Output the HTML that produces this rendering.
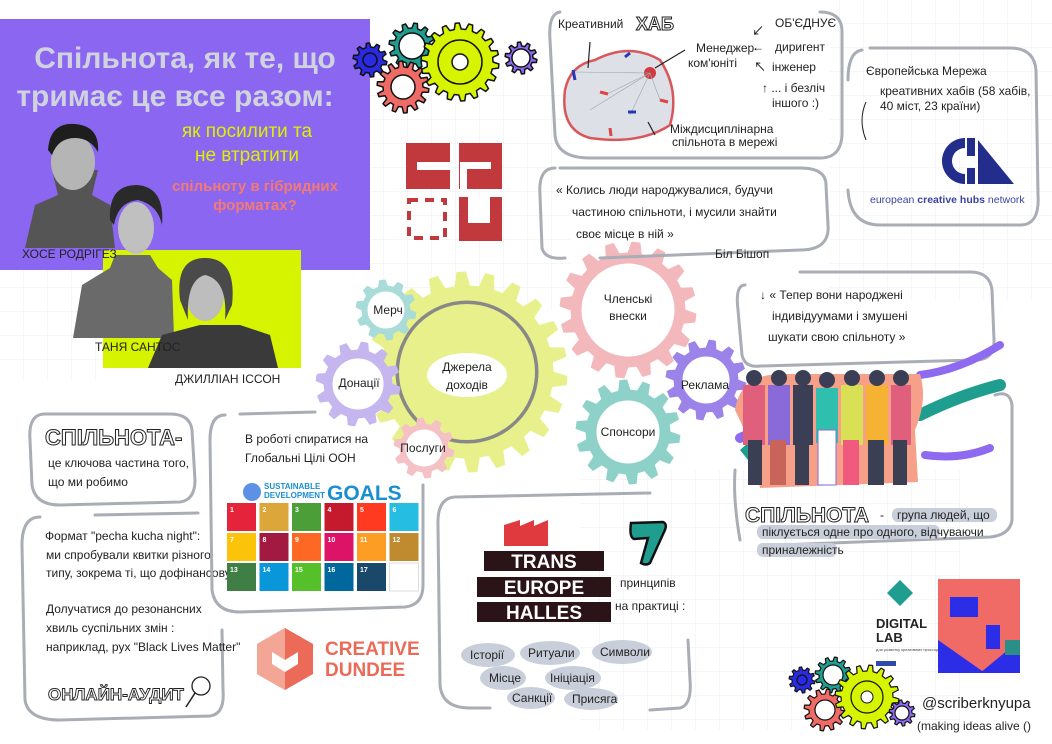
<!DOCTYPE html>
<html><head><meta charset="utf-8">
<style>
html,body{margin:0;padding:0;background:#fff;}
svg{display:block}
text{font-family:"Liberation Sans","Noto Sans CJK SC",sans-serif;}
.h{font-family:"Liberation Sans","Noto Sans CJK SC",sans-serif;fill:#222;font-size:12px;}
.box{fill:none;stroke:#a9adb6;stroke-width:3;stroke-linecap:round}
</style></head><body>
<svg id="s" width="1052" height="744" viewBox="0 0 1052 744" xmlns="http://www.w3.org/2000/svg">
<defs>
<pattern id="grid" width="24" height="24" patternUnits="userSpaceOnUse"><path d="M24 0V24H0" fill="none" stroke="#eceef2" stroke-width="1"/></pattern>
</defs>
<rect width="1052" height="744" fill="#fff"/>
<rect x="580" y="470" width="380" height="260" fill="url(#grid)"/>
<rect x="0" y="260" width="110" height="120" fill="url(#grid)"/>
<rect x="370" y="80" width="200" height="230" fill="url(#grid)"/>
<rect x="830" y="0" width="222" height="300" fill="url(#grid)"/>

<!-- purple header -->
<rect x="0" y="19" width="370" height="251" fill="#8b66f1"/>
<text x="185" y="68" text-anchor="middle" font-size="30" font-weight="bold" fill="#cfd3de">Спільнота, як те, що</text>
<text x="175" y="106" text-anchor="middle" font-size="30" font-weight="bold" fill="#cfd3de">тримає це все разом:</text>
<text x="247" y="137" text-anchor="middle" font-size="19" fill="#dcf000">як посилити та</text>
<text x="247" y="161" text-anchor="middle" font-size="19" fill="#dcf000">не втратити</text>
<text x="255" y="191" text-anchor="middle" font-size="15" font-weight="bold" fill="#f37a74">спільноту в гібридних</text>
<text x="255" y="210" text-anchor="middle" font-size="15" font-weight="bold" fill="#f37a74">форматах?</text>
<rect x="103" y="250" width="198" height="118" fill="#d6f300"/>
<!-- people -->
<path d="M25 248 L35 205 L58 195 L52 170 L98 170 L92 195 L110 205 L115 248Z" fill="#555"/>
<ellipse cx="73" cy="162" rx="22" ry="28" fill="#b5b5b5"/>
<path d="M48 150 Q50 122 75 124 Q100 126 98 152 Q90 138 75 138 Q58 138 52 155Z" fill="#1e1e1e"/>
<path d="M73 338 L82 285 L110 268 L115 255 L150 255 L158 268 L172 280 L174 338Z" fill="#6a6a6a"/>
<ellipse cx="136" cy="228" rx="18" ry="26" fill="#c0c0c0"/>
<path d="M110 220 Q108 185 137 185 Q165 187 162 225 Q158 205 138 200 Q118 202 114 225Z" fill="#2a2a2a"/>
<path d="M148 368 L162 335 L200 325 L240 325 L270 335 L278 368Z" fill="#3a3a3a"/>
<ellipse cx="205" cy="295" rx="19" ry="26" fill="#bdbdbd"/>
<path d="M180 300 Q175 258 205 258 Q237 258 232 305 L225 320 Q228 280 205 275 Q186 280 188 320Z" fill="#4a4a4a"/>
<text x="22" y="258" class="h" font-size="9">ХОСЕ РОДРІГЕЗ</text>
<text x="95" y="351" class="h" font-size="9">ТАНЯ САНТОС</text>
<text x="175" y="383" class="h" font-size="9">ДЖИЛЛІАН ІССОН</text>

<!-- CRU logo -->
<g fill="#c1393c">
<rect x="406" y="143" width="44" height="46"/>
<rect x="459" y="143" width="43" height="46"/>
<rect x="459" y="197" width="43" height="44"/>
</g>
<g fill="#fff">
<rect x="417" y="162" width="34" height="8"/>
<rect x="460" y="162" width="7" height="28"/>
<rect x="467" y="162" width="24" height="7"/>
<rect x="468" y="196" width="22" height="27"/>
</g>
<rect x="409" y="200" width="36" height="38" fill="none" stroke="#c1393c" stroke-width="4" stroke-dasharray="9 7"/>

<g id="gears"></g>

<!-- Hub box -->
<path class="box" d="M560 12 Q548 14 550 40 L555 135 Q557 158 590 158 L820 158 Q843 158 842 130 L842 30 Q841 12 820 12"/>
<text x="558" y="28" class="h" font-size="11">Креативний</text>
<text x="636" y="30" font-size="18" font-weight="bold" fill="none" stroke="#222" stroke-width="1">ХАБ</text>
<path d="M595 60 Q630 42 660 60 Q680 90 670 125 Q640 145 590 138 Q560 130 565 90 Q570 65 595 60Z" fill="#dde0e6" stroke="#d9575b" stroke-width="2.5"/>
<circle cx="650" cy="73" r="6" fill="#d23b3f"/>
<g stroke="#9aa" stroke-width="0.6"><path d="M650 73 L575 72 M650 73 L605 95 M650 73 L630 115 M650 73 L660 100 M650 73 L590 110"/></g>
<g stroke-width="3"><path d="M573 70l2 10" stroke="#2338b8"/><path d="M628 112h8" stroke="#2338b8"/><path d="M600 92l8 2" stroke="#d44"/><path d="M660 100l8 2" stroke="#d44"/><path d="M610 128l1 8" stroke="#d44"/><path d="M625 57l5 -4" stroke="#2338b8"/></g>
<path d="M655 68 L685 50 M588 68 L590 42 M648 122 L655 135" stroke="#222" stroke-width="1.2"/>
<text x="696" y="52" class="h" font-size="9">Менеджер</text>
<text x="688" y="67" class="h" font-size="9">ком'юніті</text>
<text x="670" y="133" class="h" font-size="9">Міждисциплінарна</text>
<text x="672" y="146" class="h" font-size="9">спільнота в мережі</text>
<text x="775" y="27" class="h" font-size="8">ОБ'ЄДНУЄ</text>
<text x="775" y="51" class="h" font-size="8">диригент</text>
<text x="772" y="71" class="h" font-size="8">інженер</text>
<text x="762" y="92" class="h" font-size="8">↑ ... і безліч</text>
<text x="772" y="107" class="h" font-size="8">іншого :)</text>
<text x="752" y="35" font-size="12">↙</text><text x="752" y="51" font-size="12">←</text><text x="754" y="71" font-size="12">↖</text>

<!-- ECHN box -->
<path class="box" d="M862 50 Q848 52 848 80 M848 190 Q850 225 880 225 L1020 225 Q1040 225 1038 195 L1036 70 Q1034 48 1010 48 L870 48"/>
<text x="866" y="75" class="h" font-size="10">Європейська  Мережа</text>
<text x="880" y="95" class="h" font-size="9">креативних хабів (58 хабів,</text>
<text x="880" y="110" class="h" font-size="9">40 міст, 23 країни)</text>
<path d="M866 102 Q858 120 866 140" stroke="#222" fill="none" stroke-width="1"/>
<path d="M965 138 a23 23 0 1 0 0 46 v-10 a12 12 0 0 1 0 -26z" fill="#232d8c"/>
<path d="M967 138 h8 v18 h-8z M967 168h8v16h-8z" fill="#232d8c"/>
<path d="M978 140 v44 h36z" fill="#232d8c"/>
<text x="870" y="203" font-size="10.5" fill="#3a44a0">european <tspan font-weight="bold">creative hubs</tspan> network</text>

<!-- quote box -->
<path class="box" d="M555 168 Q538 168 540 195 L542 248 Q545 260 565 258 M600 258 L800 250 Q830 250 828 225 L826 185 Q826 168 800 168 L560 168"/>
<text x="556" y="194" class="h" font-size="12">« Колись  люди  народжувалися, будучи</text>
<text x="572" y="216" class="h" font-size="12">частиною  спільноти,  і  мусили  знайти</text>
<text x="576" y="238" class="h" font-size="12">своє  місце  в  ній  »</text>
<text x="715" y="258" class="h" font-size="12">Біл  Бішоп</text>

<!-- quote 2 -->
<path class="box" d="M745 285 Q735 285 738 310 L742 355 Q745 368 760 366 L975 360 Q995 360 994 340 L992 290 Q990 272 970 272 L800 272"/>
<text x="760" y="299" class="h" font-size="12">↓ « Тепер  вони  народжені</text>
<text x="772" y="320" class="h" font-size="12">індивідуумами  і  змушені</text>
<text x="768" y="341" class="h" font-size="12">шукати  свою  спільноту »</text>

<!-- gear labels -->
<ellipse cx="467" cy="375" rx="40" ry="22" fill="#fff"/>
<text x="467" y="371" text-anchor="middle" class="h" font-size="13">Джерела</text>
<text x="467" y="389" text-anchor="middle" class="h" font-size="13">доходів</text>
<text x="628" y="303" text-anchor="middle" class="h" font-size="12">Членські</text>
<text x="628" y="320" text-anchor="middle" class="h" font-size="12">внески</text>
<text x="705" y="389" text-anchor="middle" class="h" font-size="11">Реклама</text>
<text x="628" y="436" text-anchor="middle" class="h" font-size="11">Спонсори</text>
<text x="388" y="314" text-anchor="middle" class="h" font-size="11">Мерч</text>
<text x="359" y="387" text-anchor="middle" class="h" font-size="11">Донації</text>
<text x="423" y="452" text-anchor="middle" class="h" font-size="11">Послуги</text>

<!-- left community box -->
<path class="box" d="M45 414 Q28 414 30 440 L32 485 Q35 505 60 505 L180 502 Q195 500 195 480 L192 430 Q190 414 170 414Z"/>
<text x="45" y="445" font-size="22" fill="none" stroke="#222" stroke-width="1" font-weight="bold">СПІЛЬНОТА-</text>
<text x="48" y="467" class="h" font-size="10">це  ключова частина  того,</text>
<text x="48" y="486" class="h" font-size="10">що  ми  робимо</text>

<path class="box" d="M40 517 Q22 517 22 545 L25 700 Q28 720 60 720 L210 716 Q225 714 223 690 L222 630 M95 515 L198 513"/>
<text x="45" y="540" class="h" font-size="10">Формат  "pecha  kucha  night":</text>
<text x="46" y="559" class="h" font-size="9">ми спробували квитки різного</text>
<text x="46" y="577" class="h" font-size="9">типу, зокрема ті, що дофінансовують</text>
<text x="46" y="613" class="h" font-size="9">Долучатися до резонансних</text>
<text x="46" y="632" class="h" font-size="9">хвиль суспільних змін :</text>
<text x="46" y="651" class="h" font-size="9">наприклад, рух "Black Lives Matter"</text>
<text x="48" y="700" font-size="17" fill="none" stroke="#222" stroke-width="0.9" font-weight="bold">ОНЛАЙН-АУДИТ</text>
<circle cx="201" cy="686" r="9" fill="none" stroke="#222" stroke-width="1.3"/><path d="M195 693 L186 707" stroke="#222" stroke-width="1.5"/>

<!-- SDG box -->
<path class="box" d="M225 415 Q210 415 210 440 L212 590 Q215 612 240 612 L405 607 Q423 605 423 585 L423 485 M240 414 L315 412"/>
<text x="245" y="443" class="h" font-size="9">В роботі спиратися на</text>
<text x="245" y="462" class="h" font-size="9">Глобальні Цілі ООН</text>
<circle cx="252" cy="492" r="9" fill="#5b92e5"/>
<text x="264" y="489" font-size="8" font-weight="bold" fill="#1a8fd0">SUSTAINABLE</text>
<text x="264" y="498" font-size="8" font-weight="bold" fill="#1a8fd0">DEVELOPMENT</text>
<text x="327" y="500" font-size="21" font-weight="bold" fill="#1a8fd0">GOALS</text>
<g id="sdg"></g>

<!-- creative dundee -->
<path d="M285 628 L313 644 L313 674 L285 690 L257 674 L257 644Z" fill="#ec6a58"/>
<path d="M285 628 L257 644 L257 674 L285 690Z" fill="#f4a696"/>
<path d="M272 652 L285 660 L298 652 L298 664 L285 672 L272 664Z" fill="#fff"/>
<text x="325" y="655" font-size="19" font-weight="bold" fill="#ec6a58">CREATIVE</text>
<text x="325" y="676" font-size="19" font-weight="bold" fill="#ec6a58">DUNDEE</text>

<!-- TEH box -->
<path class="box" d="M455 497 Q437 498 438 525 L440 685 Q442 708 470 708 L490 708 M650 710 L680 708 Q692 705 690 680 L688 640 M455 497 L650 493"/>
<path d="M504 546 V525 L520 520 V526 L534 520 V526 L548 520 V546Z" fill="#e03a3e"/>
<rect x="484" y="551" width="120" height="20" fill="#2a1418"/>
<rect x="477" y="577" width="134" height="20" fill="#2a1418"/>
<rect x="477" y="602" width="134" height="20" fill="#2a1418"/>
<text x="544" y="568" text-anchor="middle" font-size="19" font-weight="bold" fill="#fff">TRANS</text>
<text x="544" y="594" text-anchor="middle" font-size="19" font-weight="bold" fill="#fff">EUROPE</text>
<text x="544" y="619" text-anchor="middle" font-size="19" font-weight="bold" fill="#fff">HALLES</text>
<path d="M631 523 L663 522 Q668 524 664 532 L650 563 Q646 566 641 563 L648 538 L634 539 Q629 537 631 523Z" fill="#1f9e90" stroke="#111" stroke-width="2.5"/>
<text x="620" y="587" class="h" font-size="11">принципів</text>
<text x="615" y="610" class="h" font-size="9">на практиці :</text>
<g fill="#c9cfda">
<ellipse cx="488" cy="655" rx="27" ry="12"/><ellipse cx="550" cy="653" rx="30" ry="12"/><ellipse cx="622" cy="652" rx="30" ry="12"/>
<ellipse cx="503" cy="678" rx="23" ry="12"/><ellipse cx="573" cy="678" rx="28" ry="12"/>
<ellipse cx="531" cy="698" rx="24" ry="11"/><ellipse cx="591" cy="699" rx="27" ry="11"/>
</g>
<g class="h" font-size="11">
<text x="470" y="659">Історії</text><text x="528" y="657">Ритуали</text><text x="600" y="656">Символи</text>
<text x="489" y="682">Місце</text><text x="550" y="682">Ініціація</text>
<text x="512" y="702">Санкції</text><text x="572" y="703">Присяга</text>
</g>

<!-- people illustration -->
<path d="M740 450 Q770 420 800 440 Q790 470 760 475Z" fill="#1f9e90"/>
<path d="M740 438 Q780 420 790 430" stroke="#8d6af0" stroke-width="10" fill="none" stroke-linecap="round"/>
<path d="M920 415 Q960 395 1000 385" stroke="#1f9e90" stroke-width="12" fill="none" stroke-linecap="round"/>
<path d="M920 375 Q960 370 1000 345" stroke="#8d6af0" stroke-width="8" fill="none" stroke-linecap="round"/>
<path d="M925 455 Q960 460 990 448" stroke="#8d6af0" stroke-width="8" fill="none" stroke-linecap="round"/>
<path d="M735 410 Q740 375 780 374 L920 374 Q928 400 915 430 L918 482 L760 488 Q755 450 735 410Z" fill="#f6a08a"/>
<g>
<rect x="743" y="385" width="22" height="60" fill="#e05f7c"/><rect x="748" y="440" width="14" height="45" fill="#3b3f54"/>
<rect x="768" y="385" width="22" height="60" fill="#8a6ad8"/><rect x="770" y="440" width="16" height="45" fill="#c9645b"/>
<rect x="793" y="385" width="20" height="60" fill="#3a3f56"/><rect x="795" y="440" width="14" height="45" fill="#3b3f54"/>
<rect x="816" y="388" width="22" height="55" fill="#2fbfae"/><rect x="818" y="430" width="18" height="55" fill="#fff" stroke="#8a6ad8"/>
<rect x="841" y="385" width="22" height="60" fill="#d8e055"/><rect x="843" y="440" width="16" height="45" fill="#f05a7e"/>
<rect x="866" y="385" width="22" height="60" fill="#f5b233"/><rect x="868" y="440" width="16" height="45" fill="#3b3f54"/>
<rect x="891" y="385" width="20" height="60" fill="#e05f7c"/><rect x="893" y="440" width="14" height="45" fill="#3b3f54"/>
<g fill="#3a3f56"><circle cx="754" cy="378" r="8"/><circle cx="779" cy="378" r="8"/><circle cx="803" cy="378" r="8"/><circle cx="827" cy="380" r="8"/><circle cx="852" cy="378" r="8"/><circle cx="877" cy="378" r="8"/><circle cx="901" cy="378" r="8"/></g>
</g>
<path class="box" d="M995 395 Q1010 390 1012 405 L1012 520 Q1010 535 990 537 L780 545 M735 470 Q733 500 740 540"/>
<text x="745" y="522" font-size="21" fill="none" stroke="#222" stroke-width="1" font-weight="bold">СПІЛЬНОТА</text>
<text x="880" y="519" class="h" font-size="11">-</text>
<rect x="892" y="508" width="105" height="14" rx="6" fill="#c9cfda"/>
<rect x="757" y="525" width="183" height="14" rx="6" fill="#c9cfda"/>
<rect x="757" y="543" width="80" height="14" rx="6" fill="#c9cfda"/>
<text x="897" y="519" class="h" font-size="10">група людей, що</text>
<text x="762" y="536" class="h" font-size="10">піклується одне про одного, відчуваючи</text>
<text x="762" y="554" class="h" font-size="10">приналежність</text>

<!-- digital lab -->
<path d="M900 580 L913 593 L900 606 L887 593Z" fill="#1f9e90"/>
<text x="876" y="628" font-size="13" font-weight="bold" fill="#222">DIGITAL</text>
<text x="876" y="642" font-size="13" font-weight="bold" fill="#222">LAB</text>
<text x="876" y="651" font-size="4" fill="#444">для розвитку креативних просторів</text>
<rect x="876" y="661" width="20" height="5" fill="#2f4aa8"/>
<rect x="938" y="579" width="82" height="94" fill="#f06a66"/>
<path d="M938 640 L985 673 L938 673Z" fill="#2b2ee6"/>
<path d="M980 673 L1020 640 L1020 673Z" fill="#2b2ee6"/>
<rect x="950" y="597" width="28" height="20" fill="#2b2ee6"/>
<rect x="986" y="625" width="14" height="24" fill="#2b2ee6"/>
<rect x="1005" y="640" width="15" height="15" fill="#2b8f88"/>

<text x="922" y="708" font-size="15" fill="#222">@scriberknyupa</text>
<text x="917" y="730" font-size="12" fill="#222">(making  ideas  alive ()</text>
</svg>
<script>
function gear(cx,cy,ro,ri,n,col,fill,sw,hole,holeCol){
 var d="";var st=2*Math.PI/n;
 for(var i=0;i<n;i++){var a=i*st;
  var pts=[[ri,a],[ro,a+st*0.15],[ro,a+st*0.45],[ri,a+st*0.6]];
  pts.forEach(function(p,j){var x=cx+p[0]*Math.cos(p[1]),y=cy+p[0]*Math.sin(p[1]);d+=(i==0&&j==0?"M":"L")+x.toFixed(1)+" "+y.toFixed(1);});
 }
 d+="Z";
 var s='<path d="'+d+'" fill="'+fill+'" stroke="'+col+'" stroke-width="'+sw+'" stroke-linejoin="round"/>';
 if(hole)s+='<circle cx="'+cx+'" cy="'+cy+'" r="'+hole+'" fill="'+(holeCol||"#fff")+'" stroke="'+col+'" stroke-width="'+sw+'"/>';
 return s;
}
var g="";
g+=gear(370,60,17,13,10,"#111","#2a2ae0",1.5,7,"#2a2ae0");
g+=gear(412,46,23,18,12,"#111","#1f9e90",1.5,13,"#fff");
g+=gear(403,87,26,20,14,"#111","#f06a66",1.5,12,"#fff");
g+=gear(460,62,39,33,18,"#111","#d6f300",1.5,22,"#d6f300");
g+='<circle cx="460" cy="62" r="8" fill="#fff" stroke="#111" stroke-width="1.5"/>';
g+=gear(521,58,16,12,10,"#111","#8d6af0",1.5,9,"#fff");
g+=gear(628,310,68,57,16,"#f2b8bb","#f2b8bb",1,47,"#fff");
g+=gear(467,372,100,86,22,"#e7f08a","#e7f08a",1,72,"#888");
g+='<circle cx="467" cy="372" r="68" fill="#e7f08a"/>';
g+=gear(706,380,40,32,12,"#9b83ea","#9b83ea",1,24,"#fff");
g+=gear(628,432,52,42,14,"#8ed1c9","#8ed1c9",1,32,"#fff");
g+=gear(386,310,30,24,10,"#a9dcd8","#a9dcd8",1,19,"#fff");
g+=gear(358,384,42,34,12,"#c6b6f0","#c6b6f0",1,26,"#fff");
g+=gear(424,448,30,24,10,"#f4c2c5","#f4c2c5",1,19,"#fff");
g+=gear(802,680,13,10,10,"#111","#2a2ae0",1.2,5,"#2a2ae0");
g+=gear(833,675,18,14,12,"#111","#1f9e90",1.2,10,"#fff");
g+=gear(825,710,21,16,12,"#111","#f06a66",1.2,10,"#fff");
g+=gear(867,697,32,26,16,"#111","#d6f300",1.2,16,"#d6f300");
g+='<circle cx="867" cy="697" r="6" fill="#fff" stroke="#111"/>';
g+=gear(902,713,13,10,10,"#111","#8d6af0",1.2,7,"#fff");
document.getElementById("gears").innerHTML=g;
var cols=["#e5243b","#dda63a","#4c9f38","#c5192d","#ff3a21","#26bde2","#fcc30b","#a21942","#fd6925","#dd1367","#fd9d24","#bf8b2e","#3f7e44","#0a97d9","#56c02b","#00689d","#19486a","#ffffff"];
var s="";
for(var i=0;i<18;i++){var c=i%6,r=Math.floor(i/6);var x=227+c*32.5,y=503+r*30;
 s+='<rect x="'+x+'" y="'+y+'" width="29" height="28" fill="'+cols[i]+'" stroke="'+(i==17?"#ddd":"none")+'"/>';
 if(i<17)s+='<text x="'+(x+3)+'" y="'+(y+9)+'" font-size="7" font-weight="bold" fill="#fff">'+(i+1)+'</text>';
}
document.getElementById("sdg").innerHTML=s;
</script>
</body></html>
